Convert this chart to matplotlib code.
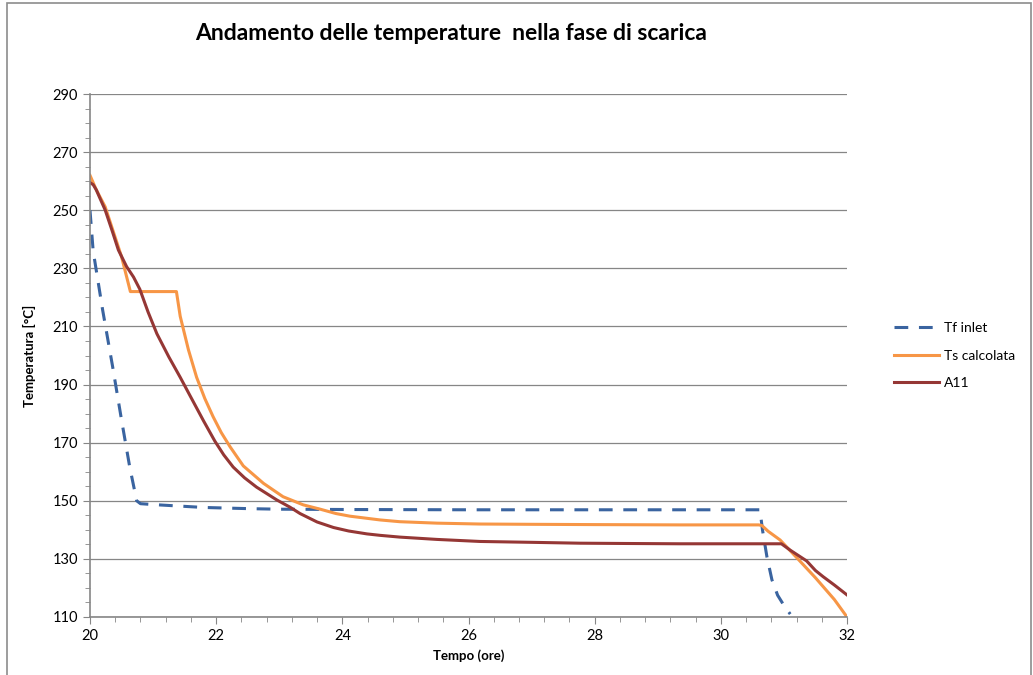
import matplotlib.pyplot as plt
from matplotlib.patches import Rectangle
from matplotlib.ticker import MultipleLocator

plt.rcParams["font.family"] = ["Lato", "DejaVu Sans"]

# Tf inlet
tf_x = [20.0, 20.05, 20.2, 20.36, 20.5, 20.63, 20.74, 20.8, 21.0, 21.4, 21.8, 22.5,
        23.0, 24.0, 26.0, 28.0, 30.0, 30.62, 30.66, 30.73, 30.81, 30.9, 31.0, 31.1]
tf_y = [250, 236, 215.7, 196, 177.8, 161.6, 150, 149, 148.7, 148.2, 147.7, 147.3,
        147.1, 147.0, 146.9, 146.9, 146.9, 146.9, 140, 130.8, 122.8, 117.5, 114, 111]

# Ts calcolata
ts_x = [20.0, 20.1, 20.24, 20.5, 20.64, 21.37, 21.43, 21.56, 21.69, 21.82, 21.95,
        22.08, 22.22, 22.43, 22.75, 23.06, 23.38, 23.65, 23.9, 24.12, 24.6, 24.91,
        25.5, 26.18, 27.0, 28.0, 29.35, 30.6, 30.65, 30.75, 30.94, 31.2, 31.5,
        31.8, 32.0]
ts_y = [262, 257, 251.2, 234, 222, 222, 213.5, 202, 192.5, 185.2, 179,
        173.5, 168.6, 162, 156, 151.4, 148.6, 147.1, 145.6, 144.7, 143.4, 142.8,
        142.3, 142, 141.9, 141.8, 141.7, 141.7, 141.5, 139.5, 136.5, 130.5, 123.5,
        116, 110]

# A11
a11_x = [20.0, 20.05, 20.1, 20.15, 20.24, 20.35, 20.45, 20.58, 20.69, 20.79,
         20.92, 21.06, 21.25, 21.43, 21.59, 21.8, 21.98, 22.12, 22.27, 22.45, 22.64,
         22.96, 23.17, 23.33, 23.6, 23.86, 24.1, 24.39, 24.6, 24.91, 25.5, 26.18,
         27.0, 27.77, 28.5, 29.35, 30.6, 30.96, 31.1, 31.36, 31.5, 31.62, 31.8, 32.0]
a11_y = [259.5, 258.8, 257, 254.5, 250.1, 243, 236.3, 230.6, 227, 222.8,
         215, 207.5, 199.5, 192.5, 186, 177.5, 170.5, 165.8, 161.6, 157.9, 154.7,
         150.3, 147.8, 145.6, 142.7, 140.8, 139.6, 138.6, 138.1, 137.5, 136.7, 136,
         135.7, 135.4, 135.3, 135.2, 135.2, 135.2, 133, 129.3, 126, 123.9, 121, 117.6]

y_ticks = list(range(110, 291, 20))

fig = plt.figure(figsize=(10.33, 6.75), dpi=100)
ax = fig.add_axes([90 / 1033, 1 - 617 / 675, 757 / 1033, 523 / 675])

grid_col = "#868686"
ax.plot(tf_x, tf_y, color="#3A64A0", lw=2.2, ls=(0, (4.5, 3.5)), label="Tf inlet")
ax.plot(ts_x, ts_y, color="#F79646", lw=2.2, label="Ts calcolata")
ax.plot(a11_x, a11_y, color="#953735", lw=2.2, label="A11")

ax.set_xlim(20, 32)
ax.set_ylim(110, 290)
ax.xaxis.set_major_locator(MultipleLocator(2))
ax.xaxis.set_minor_locator(MultipleLocator(0.4))
ax.set_yticks(y_ticks)
ax.yaxis.set_minor_locator(MultipleLocator(5))
ax.grid(axis="y", which="major", color=grid_col, lw=0.9)
ax.set_axisbelow(True)
for s in ["top", "right"]:
    ax.spines[s].set_visible(False)
for s in ["left", "bottom"]:
    ax.spines[s].set_color(grid_col)
    ax.spines[s].set_linewidth(1.2)
ax.tick_params(which="both", direction="out", color=grid_col, labelsize=10.5)
ax.tick_params(which="major", length=5)
ax.tick_params(which="minor", length=3.5)

ax.set_xlabel("Tempo (ore)", fontsize=9.5, fontweight="bold", labelpad=5)
ax.set_ylabel("Temperatura [°C]", fontsize=9.5, fontweight="bold", labelpad=12)

fig.text(451 / 1033, 1 - 33 / 675, "Andamento delle temperature  nella fase di scarica",
         ha="center", va="center", fontsize=16.5, fontweight="bold")

ax.legend(loc="center left", bbox_to_anchor=(1.045, 0.5), frameon=False,
          fontsize=10, handlelength=3.3, labelspacing=1.1, handletextpad=0.3)

fig.patches.append(Rectangle((6.5 / 1033, -0.05), (1031 - 6.5) / 1033, 1.05 - 3 / 675,
                             transform=fig.transFigure, fill=False,
                             edgecolor="#8C8C8C", lw=1.2))

fig.savefig("out.png", dpi=100)
